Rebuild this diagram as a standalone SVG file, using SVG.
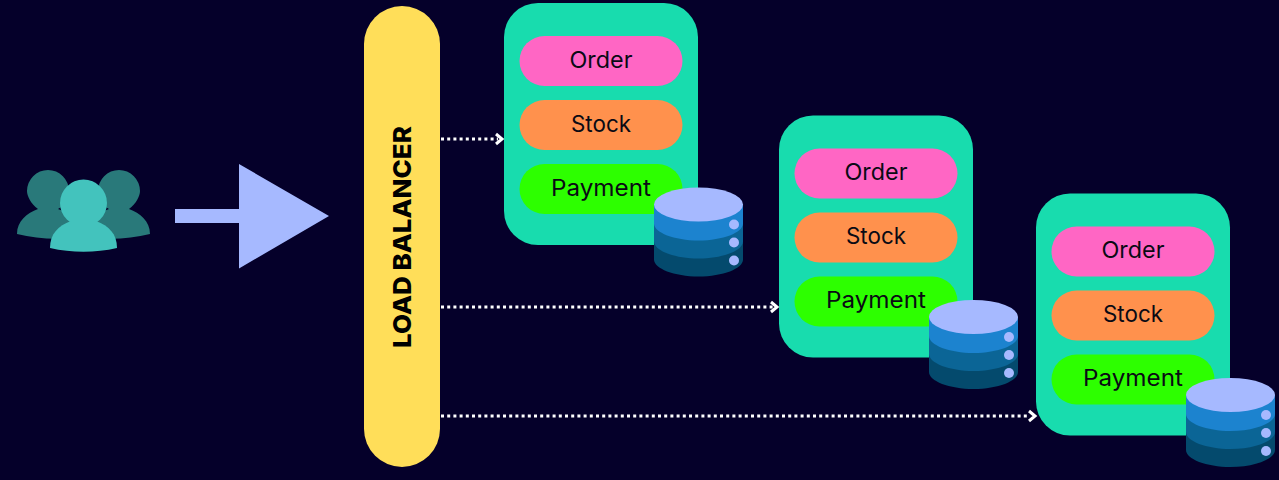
<svg xmlns="http://www.w3.org/2000/svg" xmlns:xlink="http://www.w3.org/1999/xlink" width="1279" height="480" viewBox="0 0 1279 480">
<style>
.svc{fill:#18dcae}
.pill{stroke:none}
.o{fill:#ff66c4}.s{fill:#ff914d}.p{fill:#2dff00}
.t{font-family:"Inter","Open Sans","Liberation Sans",sans-serif;font-size:22.5px;fill:#0a0a14;text-anchor:middle}
.c{fill:none;stroke:#fff;stroke-width:3;stroke-dasharray:3 3.2}
.h{fill:none;stroke:#fff;stroke-width:3}
</style>
<defs>
<g id="db">
<path d="M0 54V72C0 81 20 89 44.500 89S89 81 89 72V54Z" fill="#044a6d"/>
<path d="M0 36V54C0 63 20 71 44.500 71S89 63 89 54V36Z" fill="#0b6596"/>
<path d="M0 17V36C0 45 20 53 44.500 53S89 45 89 36V17Z" fill="#1c83cf"/>
<ellipse cx="44.500" cy="17" rx="44.500" ry="17" fill="#a6b9ff"/>
<circle cx="80" cy="37" r="5" fill="#a6b9ff"/>
<circle cx="80" cy="55" r="5" fill="#a6b9ff"/>
<circle cx="80" cy="73" r="5" fill="#a6b9ff"/>
</g>
<g id="service">
<rect width="194" height="242" rx="34" class="svc"/>
<rect x="15.500" y="33" width="163" height="50" rx="25" class="pill o"/>
<rect x="15.500" y="97" width="163" height="50" rx="25" class="pill s"/>
<rect x="15.500" y="161" width="163" height="50" rx="25" class="pill p"/>
<text x="97" y="64.500" class="t" textLength="63" lengthAdjust="spacingAndGlyphs">Order</text>
<text x="97" y="128.500" class="t" textLength="60" lengthAdjust="spacingAndGlyphs">Stock</text>
<text x="97" y="192.500" class="t" textLength="100" lengthAdjust="spacingAndGlyphs">Payment</text>
</g>
</defs>
<rect width="1279" height="480" fill="#05002a"/>
<g id="users">
<path d="M17 234C17 221 27 213 38 209C31 204 27 196 27 191A21 21 0 0 1 69 191C69 199 65 205 58 209C70 213 80 221 80 234V237C60 240 37 239 17 234Z" fill="#29797a"/>
<path d="M150 234C150 221 140 213 129 209C136 204 140 196 140 191A21 21 0 0 0 98 191C98 199 102 205 109 209C97 213 87 221 87 234V237C107 240 130 239 150 234Z" fill="#29797a"/>
<circle cx="83.500" cy="203" r="23.500" fill="#43c3bd"/>
<path d="M50 248C50 234 58 226 71 221H96C109 226 117 234 117 248C95 253 72 253 50 248Z" fill="#43c3bd"/>
</g>
<g id="big-arrow">
<path d="M175 209H239V164L329 216L239 268.500V223H175Z" fill="#a6b9ff"/>
</g>
<g id="load-balancer">
<rect x="364" y="6" width="76" height="461" rx="38" fill="#ffde59"/>
<text transform="translate(411 237) rotate(-90)" text-anchor="middle" textLength="222" lengthAdjust="spacingAndGlyphs" style="font-family:Inter,'Liberation Sans',sans-serif;font-weight:800;font-size:25px;fill:#000">LOAD BALANCER</text>
</g>
<g id="service-1"><use xlink:href="#service" href="#service" x="504" y="3"/></g>
<g id="service-2"><use xlink:href="#service" href="#service" x="779" y="115.500"/></g>
<g id="service-3"><use xlink:href="#service" href="#service" x="1036" y="193.500"/></g>
<g id="db-1"><use xlink:href="#db" href="#db" x="654" y="187.500"/></g>
<g id="db-2"><use xlink:href="#db" href="#db" x="929" y="300"/></g>
<g id="db-3"><use xlink:href="#db" href="#db" x="1186" y="378"/></g>
<g id="connectors">
<path class="c" d="M441 139H498"/><path class="h" d="M496 134L502 139L496 144"/>
<path class="c" d="M441 307H773"/><path class="h" d="M771 302L777 307L771 312"/>
<path class="c" d="M441 416H1030"/><path class="h" d="M1029 411L1035 416L1029 421"/>
</g>
</svg>
